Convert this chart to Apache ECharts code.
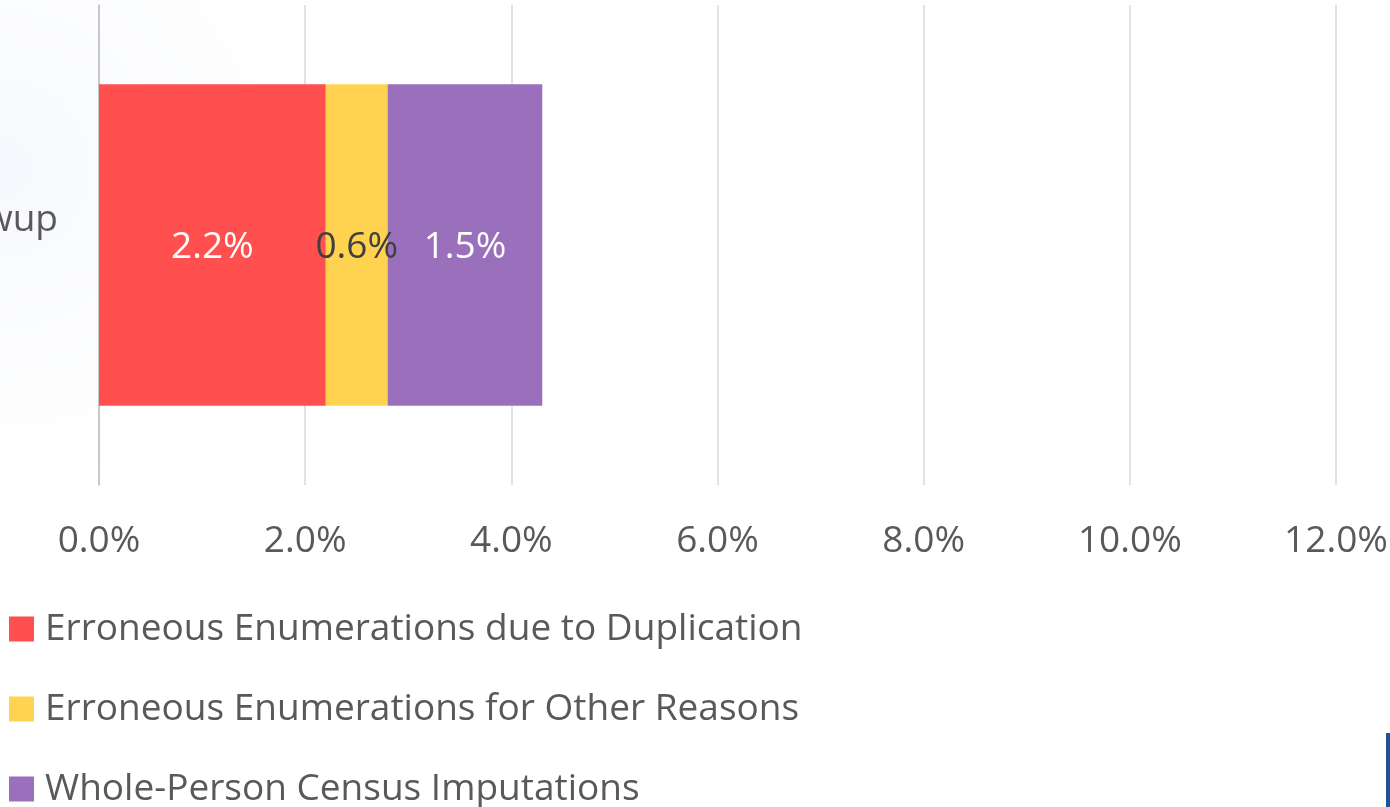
<!DOCTYPE html>
<html>
<head>
<meta charset="utf-8">
<script src="https://cdn.jsdelivr.net/npm/echarts@6/dist/echarts.min.js"></script>
<style>
  html, body { margin: 0; padding: 0; background: #fff; }
  #chart { width: 1390px; height: 807px; }
</style>
</head>
<body>
<div id="chart"></div>
<script>
const categories = ['Growup'];
const seriesNames = [
  'Erroneous Enumerations due to Duplication',
  'Erroneous Enumerations for Other Reasons',
  'Whole-Person Census Imputations'
];
const duplication = [2.2];
const otherReasons = [0.6];
const imputations = [1.5];
const SERIES_COLORS = ['#ff4f4f', '#ffd34f', '#9a6fbb'];
const LABEL_COLORS = ['#ffffff', '#404040', '#ffffff'];
const FONT = 'Open Sans';
const FONT_SIZE = 37;

const chart = echarts.init(document.getElementById('chart'), null, { renderer: 'canvas' });

function barSeries(name, values, idx) {
  return {
    name: name,
    type: 'bar',
    stack: 'total',
    data: values,
    barWidth: '67%',
    itemStyle: { color: SERIES_COLORS[idx] },
    label: {
      show: true,
      position: 'inside',
      offset: [0, 2],
      formatter: p => p.value.toFixed(1) + '%',
      color: LABEL_COLORS[idx],
      fontFamily: FONT,
      fontSize: FONT_SIZE
    }
  };
}

const option = {
  backgroundColor: '#ffffff',
  animation: false,
  graphic: [
    {
      type: 'rect',
      z: -10,
      shape: { x: 0, y: 0, width: 420, height: 480 },
      style: {
        fill: {
          type: 'radial', x: 0, y: 0.35, r: 1,
          colorStops: [
            { offset: 0, color: 'rgba(246,248,253,1)' },
            { offset: 1, color: 'rgba(255,255,255,0)' }
          ]
        }
      }
    },
    {
      type: 'rect',
      shape: { x: 1386, y: 733, width: 4, height: 74 },
      style: { fill: '#1f5597' }
    }
  ],
  grid: { left: 99, right: 54, top: 5, bottom: 322, containLabel: false, outerBoundsMode: 'none' },
  xAxis: {
    type: 'value',
    min: 0,
    max: 12,
    interval: 2,
    axisLine: { show: false },
    axisTick: { show: false },
    axisLabel: {
      formatter: v => v.toFixed(1) + '%',
      color: '#595959',
      fontFamily: FONT,
      fontSize: FONT_SIZE,
      margin: 38
    },
    splitLine: { lineStyle: { color: '#d9d9d9', width: 1.5 } }
  },
  yAxis: {
    type: 'category',
    data: categories,
    axisLine: { show: true, lineStyle: { color: '#bfbfbf', width: 1.5 } },
    axisTick: { show: false },
    axisLabel: {
      color: '#595959',
      fontFamily: FONT,
      fontSize: FONT_SIZE,
      lineHeight: 50,
      margin: 41,
      formatter: v => v + '\n '
    }
  },
  legend: {
    orient: 'vertical',
    left: 9,
    top: 609,
    height: 240,
    padding: 0,
    icon: 'rect',
    itemWidth: 25,
    itemHeight: 25,
    itemGap: 40,
    data: seriesNames,
    textStyle: {
      color: '#595959',
      fontFamily: FONT,
      fontSize: FONT_SIZE,
      lineHeight: 40,
      padding: [0, 0, 0, 6]
    }
  },
  series: [
    barSeries(seriesNames[0], duplication, 0),
    barSeries(seriesNames[1], otherReasons, 1),
    barSeries(seriesNames[2], imputations, 2)
  ]
};

chart.setOption(option);
</script>
</body>
</html>
